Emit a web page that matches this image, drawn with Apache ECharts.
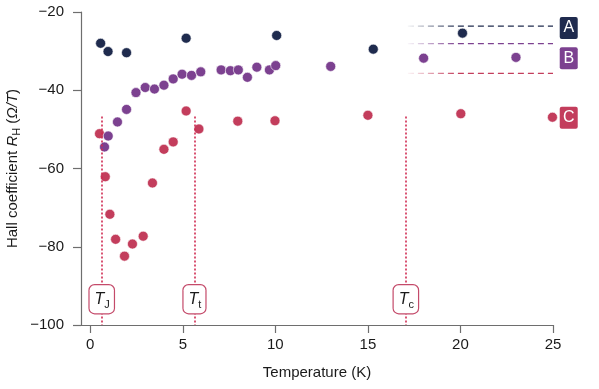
<!DOCTYPE html>
<html><head><meta charset="utf-8">
<script src="https://cdn.jsdelivr.net/npm/echarts@6/dist/echarts.min.js"></script>
<style>html,body{margin:0;padding:0;background:#fff}#c{width:599px;height:389px}</style>
</head><body><div id="c"></div>
<script>
// ---- data ----
const tempA = [0.56, 0.96, 1.96, 5.18, 10.07, 15.29, 20.11];
const hallA = [-28.0, -30.1, -30.4, -26.7, -26.0, -29.5, -25.4];
const tempB = [0.77, 0.97, 1.47, 1.96, 2.47, 2.97, 3.47, 3.98, 4.48, 4.96, 5.47, 5.97, 7.07, 7.57, 8.0, 8.49, 9.0, 9.68, 10.02, 12.99, 18.01, 23.0];
const hallB = [-54.5, -51.7, -48.1, -44.9, -40.6, -39.3, -39.7, -38.7, -37.1, -35.9, -36.2, -35.3, -34.8, -35.0, -34.8, -36.7, -34.1, -34.8, -33.7, -33.9, -31.8, -31.6];
const tempC = [0.5, 0.81, 1.06, 1.37, 1.85, 2.28, 2.86, 3.36, 3.98, 4.48, 5.18, 5.87, 7.97, 9.98, 15.0, 20.02, 24.97];
const hallC = [-51.1, -62.1, -71.7, -78.1, -82.4, -79.3, -77.3, -63.7, -55.1, -53.2, -45.3, -49.9, -47.9, -47.8, -46.4, -46.0, -46.9];
const xTicks = [0, 5, 10, 15, 20, 25];
const yTicks = [-100, -80, -60, -40, -20];
const transitionNames = ['J', 't', 'c'];
const transitionTemps = [0.62, 5.63, 17.05];
const transitionTop = -46.7;
const transitionLabelY = -93.4;
const seriesNames = ['A', 'B', 'C'];
const refLineY = [-23.6, -28.1, -35.7];
const refLineX = [17.16, 25.0];
const seriesTagY = [-24.1, -31.8, -47.0];
const seriesTagX = 25.85;

// ---- styles ----
const FONT = '"Liberation Sans", Arial, Helvetica, sans-serif';
const TXT = '#1a1a1a';
const AXIS = '#6e6e6e';
const colA = '#1f2b4e', colB = '#7c4190', colC = '#c33d5c';
const colLine = '#cf2a50', colBox = '#c44a6a';
const colors = [colA, colB, colC];

function zip(xs, ys) { return xs.map((x, i) => [x, ys[i]]); }
function fade(c) {
  return new echarts.graphic.LinearGradient(0, 0, 1, 0, [
    { offset: 0, color: c + '00' }, { offset: 0.35, color: c }, { offset: 1, color: c }
  ]);
}

const chart = echarts.init(document.getElementById('c'), null, { renderer: 'canvas' });

const dotStyle = c => ({ color: c, borderColor: '#ffffff', borderWidth: 0.6, opacity: 1 });
const hiddenItem = { color: 'rgba(0,0,0,0)', opacity: 1 };

const series = [];
// reference dashed lines
refLineY.forEach((y, i) => {
  series.push({
    type: 'line', silent: true, symbol: 'none', z: 1,
    data: [[refLineX[0], y], [refLineX[1], y]],
    lineStyle: { width: 1.3, type: [6, 4], color: fade(colors[i]) }
  });
});
// transition dotted lines
series.push({
  type: 'line', data: [], silent: true, z: 2,
  markLine: {
    silent: true, symbol: ['none', 'none'], label: { show: false },
    lineStyle: { color: colLine, type: [2, 2], width: 1.6 },
    emphasis: { disabled: true },
    data: transitionTemps.map(t => [{ coord: [t, transitionTop] }, { coord: [t, -100] }])
  }
});
// scatter series
series.push({ type: 'scatter', name: 'C', z: 3, symbolSize: 10, data: zip(tempC, hallC), itemStyle: dotStyle(colC) });
series.push({ type: 'scatter', name: 'B', z: 4, symbolSize: 10, data: zip(tempB, hallB), itemStyle: dotStyle(colB) });
series.push({ type: 'scatter', name: 'A', z: 5, symbolSize: 10, data: zip(tempA, hallA), itemStyle: dotStyle(colA) });
// transition label boxes
series.push({
  type: 'scatter', z: 6, silent: true, symbolSize: 0, itemStyle: hiddenItem,
  data: transitionTemps.map((t, i) => ({ value: [t, transitionLabelY], name: transitionNames[i] })),
  label: {
    show: true, position: 'inside',
    formatter: p => '{t|T}{s|' + p.name + '}',
    backgroundColor: '#ffffff', borderColor: colBox, borderWidth: 1.2, borderRadius: 5,
    padding: [4, 4, 3, 5],
    rich: {
      t: { fontFamily: FONT, fontSize: 16, fontStyle: 'italic', color: TXT, lineHeight: 21 },
      s: { fontFamily: FONT, fontSize: 11, color: TXT, lineHeight: 12, verticalAlign: 'bottom' }
    }
  },
  labelLayout: { hideOverlap: false }
});
// series tags A/B/C
series.push({
  type: 'scatter', z: 7, silent: true, clip: false, symbolSize: 0, itemStyle: hiddenItem,
  data: seriesNames.map((n, i) => ({ value: [seriesTagX, seriesTagY[i]], name: n, label: { backgroundColor: colors[i] } })),
  label: {
    show: true, position: 'inside', formatter: p => p.name,
    color: '#ffffff', fontFamily: FONT, fontSize: 16,
    width: 18, height: 22, lineHeight: 22, align: 'center', verticalAlign: 'middle',
    borderRadius: 2
  }
});

chart.setOption({
  animation: false,
  backgroundColor: '#ffffff',
  grid: { left: 81, right: 46, top: 12, bottom: 64, containLabel: false, outerBoundsMode: 'none' },
  xAxis: {
    type: 'value', min: -0.5, max: 25,
    name: 'Temperature (K)', nameLocation: 'middle', nameGap: 40, nameMoveOverlap: false,
    nameTextStyle: { fontFamily: FONT, fontSize: 15, color: TXT },
    axisLine: { show: true, onZero: false, lineStyle: { color: AXIS, width: 1.2 } },
    axisTick: { show: true, length: 8, inside: false, customValues: xTicks, lineStyle: { color: AXIS, width: 1.2 } },
    axisLabel: { customValues: xTicks, margin: 12, fontFamily: FONT, fontSize: 15, color: TXT },
    splitLine: { show: false }
  },
  yAxis: {
    type: 'value', min: -100, max: -20, interval: 20,
    name: '{a|Hall coefficient }{i|R}{s|H}{a| (}{i|Ω/T}{a|)}',
    nameLocation: 'middle', nameGap: 59, nameMoveOverlap: false,
    nameTextStyle: {
      fontFamily: FONT, fontSize: 15, color: TXT,
      rich: {
        a: { fontFamily: FONT, fontSize: 15, color: TXT, lineHeight: 18 },
        i: { fontFamily: FONT, fontSize: 15, color: TXT, fontStyle: 'italic', lineHeight: 18 },
        s: { fontFamily: FONT, fontSize: 11, color: TXT, lineHeight: 10, verticalAlign: 'bottom' }
      }
    },
    axisLine: { show: true, onZero: false, lineStyle: { color: AXIS, width: 1.2 } },
    axisTick: { show: true, length: 8, lineStyle: { color: AXIS, width: 1.2 } },
    axisLabel: { margin: 17, fontFamily: FONT, fontSize: 15, color: TXT, formatter: v => String(v).replace('-', '\u2212') },
    splitLine: { show: false }
  },
  series: series
});
</script>
</body></html>
